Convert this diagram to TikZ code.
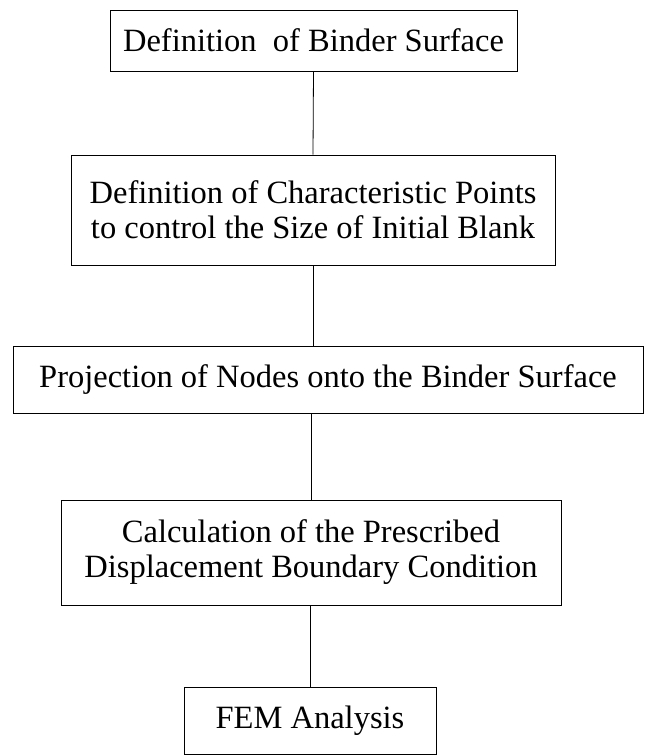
\documentclass[tikz,border=0pt]{standalone}
\usepackage{fontspec}
\setmainfont{Liberation Serif}
\begin{document}
\begin{tikzpicture}[x=1pt,y=-1pt,
  stagebox/.style={draw, line width=0.8pt, inner sep=0pt, align=center,
    font=\fontsize{32.5}{35}\selectfont},
  link/.style={line width=0.8pt}]
\useasboundingbox (0,0) rectangle (645,756);
\node[stagebox, minimum width=407pt, minimum height=61pt] (b1) at (313.5,40.5)
  {Definition~ of Binder Surface};
\node[stagebox, minimum width=484pt, minimum height=110pt] (b2) at (313,210)
  {Definition of Characteristic Points\\to control the Size of Initial Blank};
\node[stagebox, minimum width=630pt, minimum height=67pt] (b3) at (328,379.5)
  {Projection of Nodes onto the Binder Surface};
\node[stagebox, minimum width=500pt, minimum height=105pt] (b4) at (311,552.5)
  {Calculation of the Prescribed\\Displacement Boundary Condition};
\node[stagebox, minimum width=252pt, minimum height=67pt] (b5) at (310,720.5)
  {FEM Analysis};
\draw[link] (b1.south) -- (b2.north);
\draw[link] (b2.south) -- (b2.south |- b3.north);
\draw[link] (b3.south -| b4.north) -- (b4.north);
\draw[link] (b4.south -| b5.north) -- (b5.north);
\end{tikzpicture}
\end{document}
